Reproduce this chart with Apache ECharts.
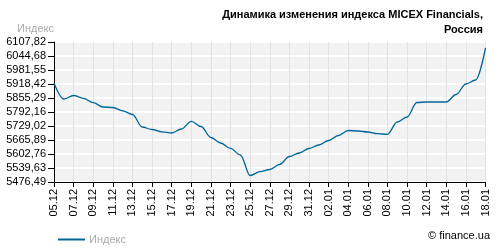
<!DOCTYPE html>
<html><head><meta charset="utf-8">
<script src="https://cdn.jsdelivr.net/npm/echarts@6/dist/echarts.min.js"></script>
<style>html,body{margin:0;padding:0;background:#fff}#c{width:500px;height:250px}</style>
</head><body><div id="c"></div>
<script>
var categories = ['05.12','06.12','07.12','08.12','09.12','10.12','11.12','12.12','13.12','14.12','15.12','16.12','17.12','18.12','19.12','20.12','21.12','22.12','23.12','24.12','25.12','26.12','27.12','28.12','29.12','30.12','31.12','01.01','02.01','03.01','04.01','05.01','06.01','07.01','08.01','09.01','10.01','11.01','12.01','13.01','14.01','15.01','16.01','17.01','18.01'];
var indexValues = [5922.9,5850.8,5866.5,5853.9,5834.1,5814.7,5812.4,5797.6,5780.8,5724.5,5713.2,5702.9,5697.4,5715.4,5750.2,5726.7,5677.2,5652.3,5628.4,5598.2,5505.8,5522.9,5532.8,5555.4,5591.4,5607.3,5627.6,5643.3,5663.6,5686.2,5708.7,5706.5,5702.0,5694.3,5691.6,5747.1,5769.6,5835.0,5837.3,5837.3,5837.3,5871.1,5918.4,5936.5,6080.8];
var yTicks = [5476.49,5539.63,5602.76,5665.89,5729.02,5792.16,5855.29,5918.42,5981.55,6044.68,6107.82];
var seriesName = 'Индекс';
var titleLine1 = 'Динамика изменения индекса MICEX Financials,';
var titleLine2 = 'Россия';
var creditText = '© finance.ua';

var chart = echarts.init(document.getElementById('c'), null, {renderer:'canvas'});
var font = 'Liberation Sans';
var titleStyle = {fontFamily:font, fontSize:11, fontWeight:'bold', color:'#000'};
chart.setOption({
  animation:false,
  textStyle:{fontFamily:font},
  title:[{
    text:titleLine1, right:12, top:4, textStyle:titleStyle
  },{
    text:titleLine2, right:12, top:19, textStyle:titleStyle
  },{
    text:creditText, right:5, top:225,
    textStyle:{fontFamily:font, fontSize:11, fontWeight:'normal', color:'#000'}
  }],
  legend:{
    left:53, top:229, icon:'rect', itemWidth:27, itemHeight:2, itemGap:4,
    textStyle:{fontFamily:font, fontSize:11, color:'#aaaaaa', padding:[0,0,0,-1]},
    data:[seriesName]
  },
  grid:{left:54, right:14.5, top:42, bottom:68, show:true, backgroundColor:'#f2f2f2', borderWidth:0},
  xAxis:{
    type:'category', data:categories, boundaryGap:false,
    axisLine:{lineStyle:{color:'#000', width:1}},
    axisTick:{show:true, interval:1, length:5, lineStyle:{color:'#000'}},
    axisLabel:{interval:1, rotate:90, fontSize:11, color:'#000', margin:7, fontFamily:font},
    splitLine:{show:true, interval:1, lineStyle:{color:'#e2e2e2', width:1}}
  },
  yAxis:{
    type:'value', min:yTicks[0], max:yTicks[yTicks.length-1],
    name:seriesName, nameLocation:'end', nameGap:8,
    nameTextStyle:{color:'#aaaaaa', fontSize:11, align:'right', padding:[0,0,0,0], fontFamily:font},
    axisLine:{show:true, lineStyle:{color:'#000', width:1}},
    axisTick:{show:true, length:6, customValues:yTicks, lineStyle:{color:'#000'}},
    axisLabel:{customValues:yTicks, fontSize:11, color:'#000', margin:8, fontFamily:font,
      formatter:function(v){return v.toFixed(2).replace('.',',');}},
    splitLine:{show:true, lineStyle:{color:'#ffffff', width:2}}
  },
  series:[{
    name:seriesName, type:'line', data:indexValues, smooth:0.35, smoothMonotone:'x',
    showSymbol:false, symbol:'none',
    lineStyle:{color:'#006699', width:1.3}, itemStyle:{color:'#006699'}
  }]
});
</script></body></html>
